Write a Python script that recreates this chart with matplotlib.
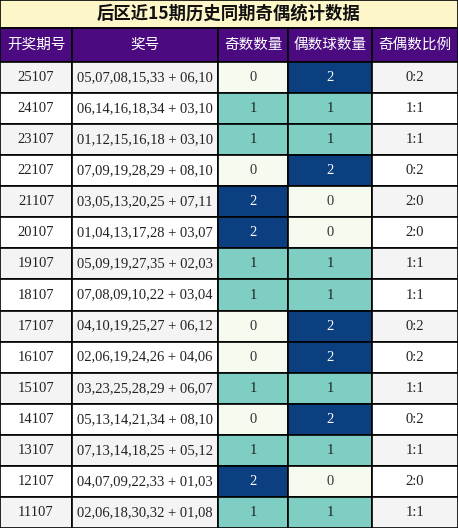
import matplotlib
matplotlib.use('Agg')
import matplotlib.pyplot as plt
from matplotlib.patches import Rectangle

title = '后区近15期历史同期奇偶统计数据'
headers = ['开奖期号', '奖号', '奇数数量', '偶数球数量', '奇偶数比例']
periods = ['25107', '24107', '23107', '22107', '21107', '20107', '19107', '18107',
           '17107', '16107', '15107', '14107', '13107', '12107', '11107']
numbers = ['05,07,08,15,33 + 06,10', '06,14,16,18,34 + 03,10', '01,12,15,16,18 + 03,10',
           '07,09,19,28,29 + 08,10', '03,05,13,20,25 + 07,11', '01,04,13,17,28 + 03,07',
           '05,09,19,27,35 + 02,03', '07,08,09,10,22 + 03,04', '04,10,19,25,27 + 06,12',
           '02,06,19,24,26 + 04,06', '03,23,25,28,29 + 06,07', '05,13,14,21,34 + 08,10',
           '07,13,14,18,25 + 05,12', '04,07,09,22,33 + 01,03', '02,06,18,30,32 + 01,08']
odd = [0, 1, 1, 0, 2, 2, 1, 1, 0, 0, 1, 0, 1, 2, 1]
even = [2, 1, 1, 2, 0, 0, 1, 1, 2, 2, 1, 2, 1, 0, 1]

W, H = 458, 528
col_x = [0, 72, 218, 288, 372, 458]
title_h, head_h = 28, 34
row_h = (H - title_h - head_h) / len(periods)
cnt_bg = {0: '#f5fbef', 1: '#7ecec4', 2: '#0b3f7f'}
cnt_fg = {0: '#333333', 1: '#222222', 2: '#ffffff'}

fig = plt.figure(figsize=(W / 100, H / 100), dpi=100)
ax = fig.add_axes([0, 0, 1, 1])
ax.set_xlim(0, W)
ax.set_ylim(H, 0)
ax.axis('off')

def cell(x0, x1, y0, h, bg, text, color='#222222', family=None, size=10.5, weight='normal'):
    ax.add_patch(Rectangle((x0, y0), x1 - x0, h, facecolor=bg, edgecolor='black', lw=1.2))
    ax.text((x0 + x1) / 2, y0 + h / 2, text, ha='center', va='center', color=color,
            fontsize=size, weight=weight, family=family or ['Liberation Serif', 'Noto Sans CJK SC'])

cell(0, W, 0, title_h, '#fdf6c8', title, color='#111111',
     family=['Noto Sans CJK SC'], size=12.5, weight='bold')
for j, hd in enumerate(headers):
    cell(col_x[j], col_x[j + 1], title_h, head_h, '#4b0a80', hd, color='white',
         family=['Noto Sans CJK SC'], size=10.5)

for i in range(len(periods)):
    y = title_h + head_h + i * row_h
    bg = '#f4f4f4' if i % 2 == 0 else '#ffffff'
    cell(col_x[0], col_x[1], y, row_h, bg, periods[i])
    cell(col_x[1], col_x[2], y, row_h, bg, numbers[i])
    cell(col_x[2], col_x[3], y, row_h, cnt_bg[odd[i]], str(odd[i]), color=cnt_fg[odd[i]])
    cell(col_x[3], col_x[4], y, row_h, cnt_bg[even[i]], str(even[i]), color=cnt_fg[even[i]])
    cell(col_x[4], col_x[5], y, row_h, bg, f'{odd[i]}:{even[i]}')

fig.savefig('out.png', dpi=100)
